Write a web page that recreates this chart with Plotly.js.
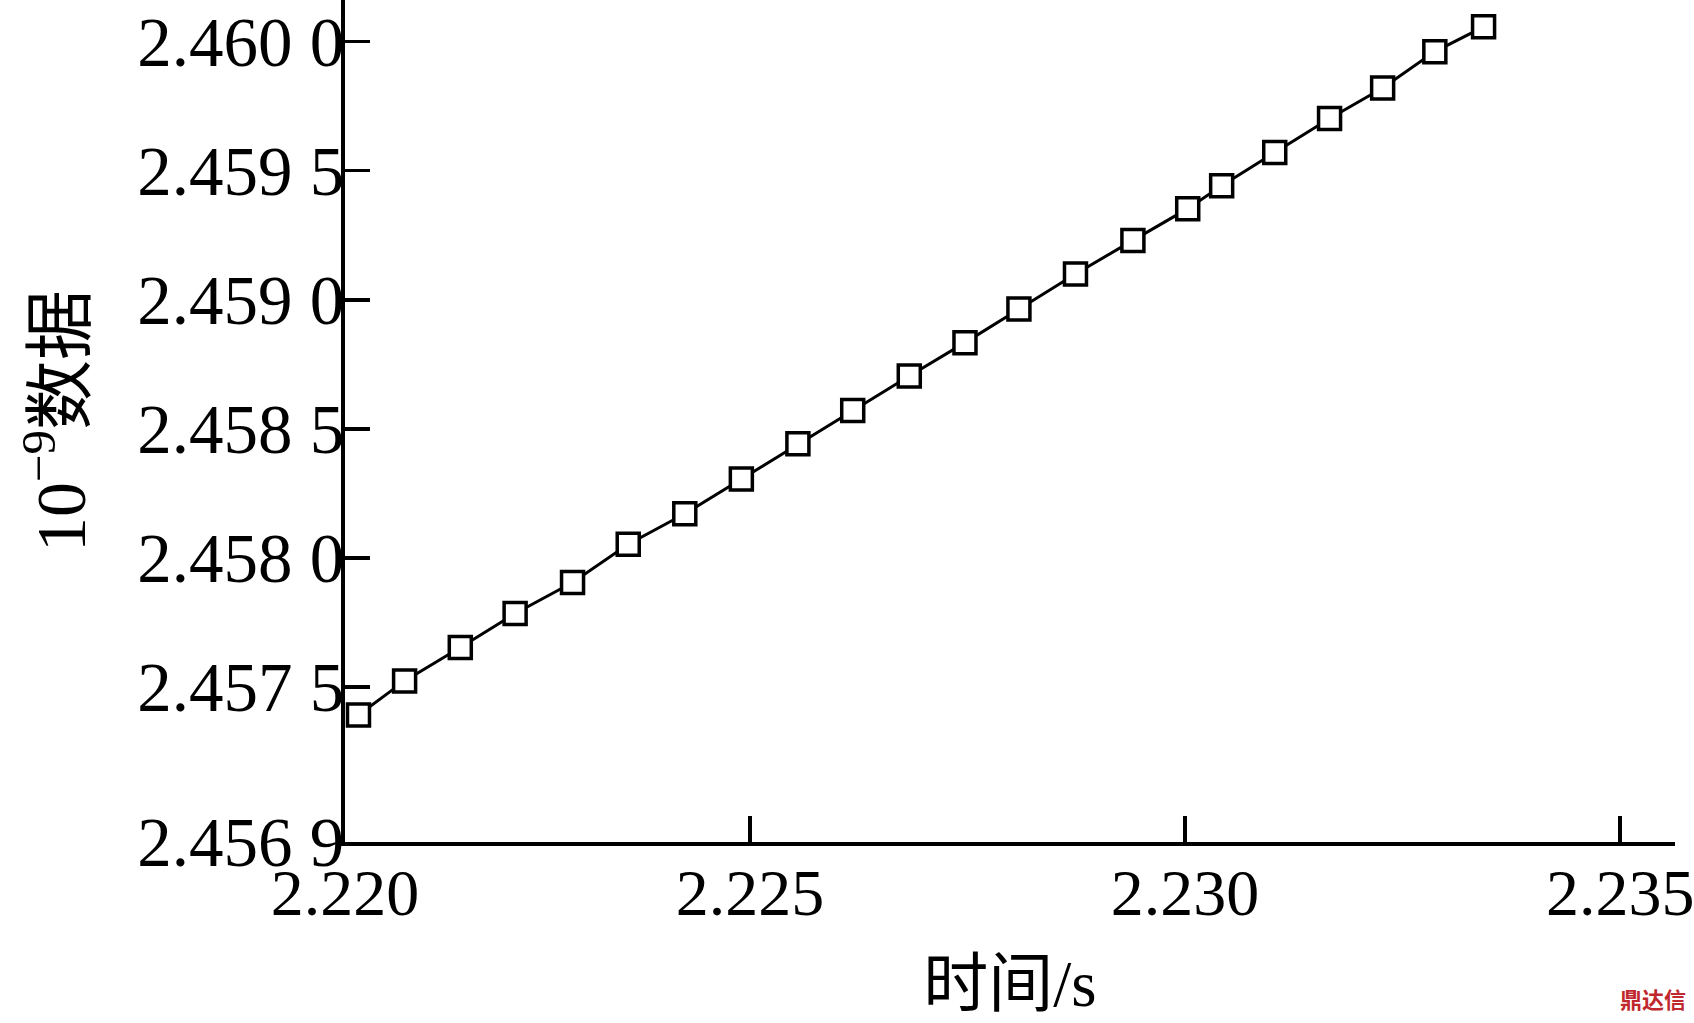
<!DOCTYPE html>
<html>
<head>
<meta charset="utf-8">
<script src="https://cdn.plot.ly/plotly-3.0.1.min.js"></script>
<style>
  html, body { margin: 0; padding: 0; background: #ffffff; }
  #chart { width: 1694px; height: 1023px; }
</style>
</head>
<body>
<div id="chart"></div>
<script>
// ---- data ----
const timeS = [
  2.22050, 2.22103, 2.22167, 2.22230, 2.22296, 2.22360, 2.22425, 2.22490,
  2.22555, 2.22618, 2.22683, 2.22747, 2.22809, 2.22874, 2.22940, 2.23003,
  2.23042, 2.23103, 2.23166, 2.23227, 2.23287, 2.23343
];
const dataE9 = [
  2.457392, 2.457524, 2.457653, 2.457785, 2.457905, 2.458053, 2.458171, 2.458306,
  2.458442, 2.458571, 2.458705, 2.458834, 2.458964, 2.459100, 2.459230, 2.459353,
  2.459442, 2.459570, 2.459702, 2.459820, 2.459961, 2.460057
];
const xRange = [2.220345, 2.23563];
const yRange = [2.4569, 2.460161];
const xTickVals = [2.225, 2.230, 2.235];
const xTickText = ["2.220", "2.225", "2.230", "2.235"];
const yTickVals = [2.4569, 2.4575, 2.4580, 2.4585, 2.4590, 2.4595, 2.4600];
const yTickText = ["2.456 9", "2.457 5", "2.458 0", "2.458 5", "2.459 0", "2.459 5", "2.460 0"];
const xTitle = "时间/s";
const yTitle = "10<sup>−9</sup>数据";

const FONT = "'Liberation Serif', 'Times New Roman', 'Noto Sans CJK SC', serif";

const trace = {
  x: timeS,
  y: dataE9,
  type: "scatter",
  mode: "lines+markers",
  line: { color: "#000000", width: 3 },
  marker: {
    symbol: "square",
    size: 22,
    color: "#ffffff",
    line: { color: "#000000", width: 3.5 }
  },
  cliponaxis: false,
  hoverinfo: "x+y"
};

const layout = {
  width: 1694,
  height: 1023,
  paper_bgcolor: "#ffffff",
  plot_bgcolor: "#ffffff",
  showlegend: false,
  margin: { l: 345, r: 19, t: 0, b: 181, pad: 0 },
  font: { family: FONT, color: "#000000", size: 66 },
  xaxis: {
    range: xRange,
    tickmode: "array",
    tickvals: [xRange[0]].concat(xTickVals),
    ticktext: xTickText,
    ticks: "inside",
    ticklen: 26,
    tickwidth: 3.5,
    tickcolor: "#000000",
    showline: true,
    linewidth: 4,
    linecolor: "#000000",
    showgrid: false,
    zeroline: false,
    mirror: false,
    ticklabelstandoff: -10,
    ticklabeloverflow: "allow",
    tickfont: { family: FONT, size: 66, color: "#000000" },
    automargin: false,
    title: { text: xTitle, font: { family: FONT, size: 65, color: "#000000" }, standoff: 33 }
  },
  yaxis: {
    range: yRange,
    tickmode: "array",
    tickvals: yTickVals,
    ticktext: yTickText,
    ticks: "inside",
    ticklen: 25,
    tickwidth: 3.5,
    tickcolor: "#000000",
    showline: true,
    linewidth: 4,
    linecolor: "#000000",
    showgrid: false,
    zeroline: false,
    mirror: false,
    ticklabelstandoff: -17,
    ticklabeloverflow: "allow",
    tickfont: { family: FONT, size: 69, color: "#000000" },
    automargin: false,
    title: { text: yTitle, font: { family: FONT, size: 70, color: "#000000" }, standoff: 30 }
  },
  annotations: [
    {
      text: "<b>鼎达信</b>",
      xref: "paper", yref: "paper",
      x: 1.01, y: -0.185,
      xanchor: "right", yanchor: "middle",
      showarrow: false,
      font: { family: "'Noto Sans CJK SC', sans-serif", size: 22, color: "#c0282d" }
    }
  ]
};

Plotly.newPlot("chart", [trace], layout, { displayModeBar: false, staticPlot: true });
</script>
</body>
</html>
